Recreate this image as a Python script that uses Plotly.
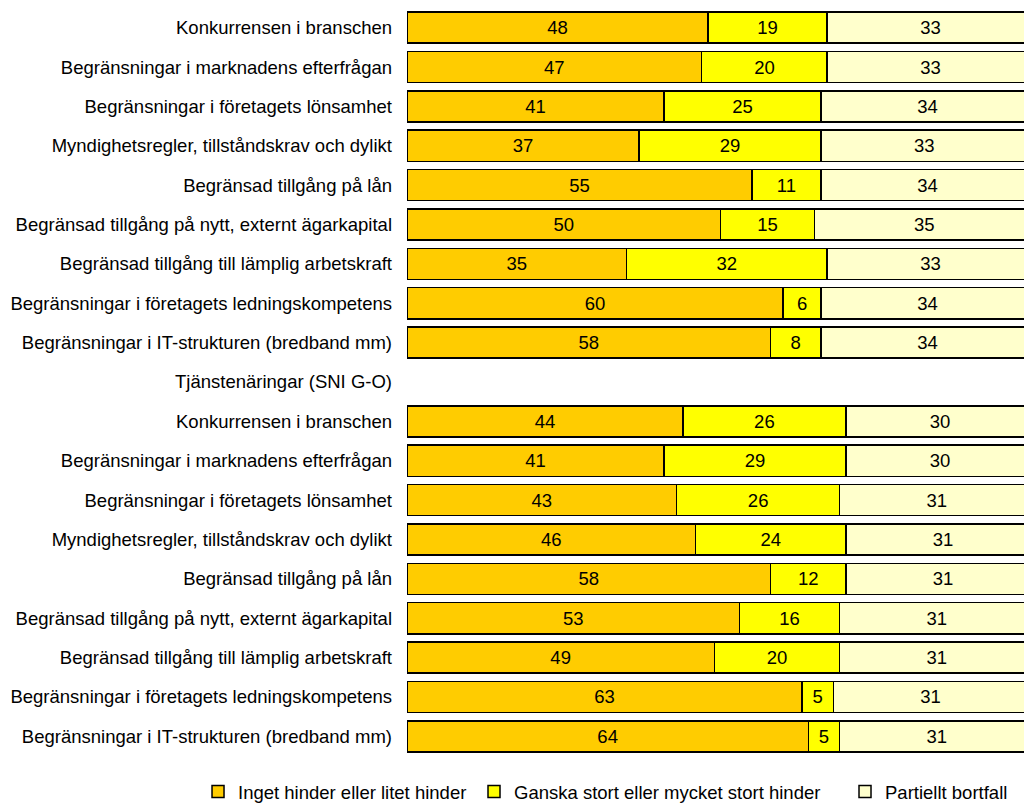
import plotly.graph_objects as go

# Category labels, top to bottom (row 10 is a group header without bars)
categories = [
    "Konkurrensen i branschen",
    "Begränsningar i marknadens efterfrågan",
    "Begränsningar i företagets lönsamhet",
    "Myndighetsregler, tillståndskrav och dylikt",
    "Begränsad tillgång på lån",
    "Begränsad tillgång på nytt, externt ägarkapital",
    "Begränsad tillgång till lämplig arbetskraft",
    "Begränsningar i företagets ledningskompetens",
    "Begränsningar i IT-strukturen (bredband mm)",
    "Tjänstenäringar (SNI G-O)",
    "Konkurrensen i branschen",
    "Begränsningar i marknadens efterfrågan",
    "Begränsningar i företagets lönsamhet",
    "Myndighetsregler, tillståndskrav och dylikt",
    "Begränsad tillgång på lån",
    "Begränsad tillgång på nytt, externt ägarkapital",
    "Begränsad tillgång till lämplig arbetskraft",
    "Begränsningar i företagets ledningskompetens",
    "Begränsningar i IT-strukturen (bredband mm)",
]

inget_hinder = [48, 47, 41, 37, 55, 50, 35, 60, 58, None, 44, 41, 43, 46, 58, 53, 49, 63, 64]
stort_hinder = [19, 20, 25, 29, 11, 15, 32, 6, 8, None, 26, 29, 26, 24, 12, 16, 20, 5, 5]
bortfall = [33, 33, 34, 33, 34, 35, 33, 34, 34, None, 30, 30, 31, 31, 31, 31, 31, 31, 31]

series_names = [
    "Inget hinder eller litet hinder",
    "Ganska stort eller mycket stort hinder",
    "Partiellt bortfall",
]
series_colors = ["#FFCC00", "#FFFF00", "#FFFFCC"]
legend_x = [-0.3387, 0.1086, 0.7099]

FONT = "Liberation Sans, Arial, sans-serif"
rows = list(range(len(categories)))

fig = go.Figure()
for idx, (name, values, color) in enumerate(
    zip(series_names, [inget_hinder, stort_hinder, bortfall], series_colors)
):
    legend_id = "legend" if idx == 0 else f"legend{idx + 1}"
    fig.add_trace(
        go.Bar(
            y=rows,
            x=values,
            orientation="h",
            name=name,
            marker={"color": color, "line": {"color": "#000000", "width": 1.5}},
            text=[str(v) if v is not None else "" for v in values],
            textposition="inside",
            insidetextanchor="middle",
            textangle=0,
            constraintext="none",
            textfont={"family": FONT, "size": 18.5, "color": "#000000"},
            legend=legend_id,
        )
    )

legend_style = {
    "orientation": "h",
    "yanchor": "middle",
    "xanchor": "left",
    "y": -0.048,
    "font": {"family": FONT, "size": 18.5, "color": "#000000"},
    "bgcolor": "rgba(0,0,0,0)",
    "itemwidth": 30,
}

layout_legends = {
    ("legend" if i == 0 else f"legend{i + 1}"): {**legend_style, "x": lx}
    for i, lx in enumerate(legend_x)
}

fig.update_layout(
    barmode="stack",
    bargap=0.21,
    width=1024,
    height=804,
    margin={"l": 407, "r": 0, "t": 8, "b": 48, "autoexpand": False},
    plot_bgcolor="#FFFFFF",
    paper_bgcolor="#FFFFFF",
    showlegend=True,
    xaxis={
        "range": [0, 98.4],
        "showgrid": False,
        "showticklabels": False,
        "zeroline": False,
        "showline": False,
    },
    yaxis={
        "tickmode": "array",
        "tickvals": rows,
        "ticktext": categories,
        "range": [len(categories) - 0.5, -0.5],
        "showgrid": False,
        "zeroline": False,
        "showline": False,
        "ticks": "",
        "ticklabelstandoff": 14,
        "automargin": False,
        "tickfont": {"family": FONT, "size": 18.5, "color": "#000000"},
    },
    **layout_legends,
)

# drop the default body margin so the figure fills the window exactly
fig.write_html(
    "out.html",
    config={"displayModeBar": False},
    post_script="document.body.style.margin = '0';",
)
